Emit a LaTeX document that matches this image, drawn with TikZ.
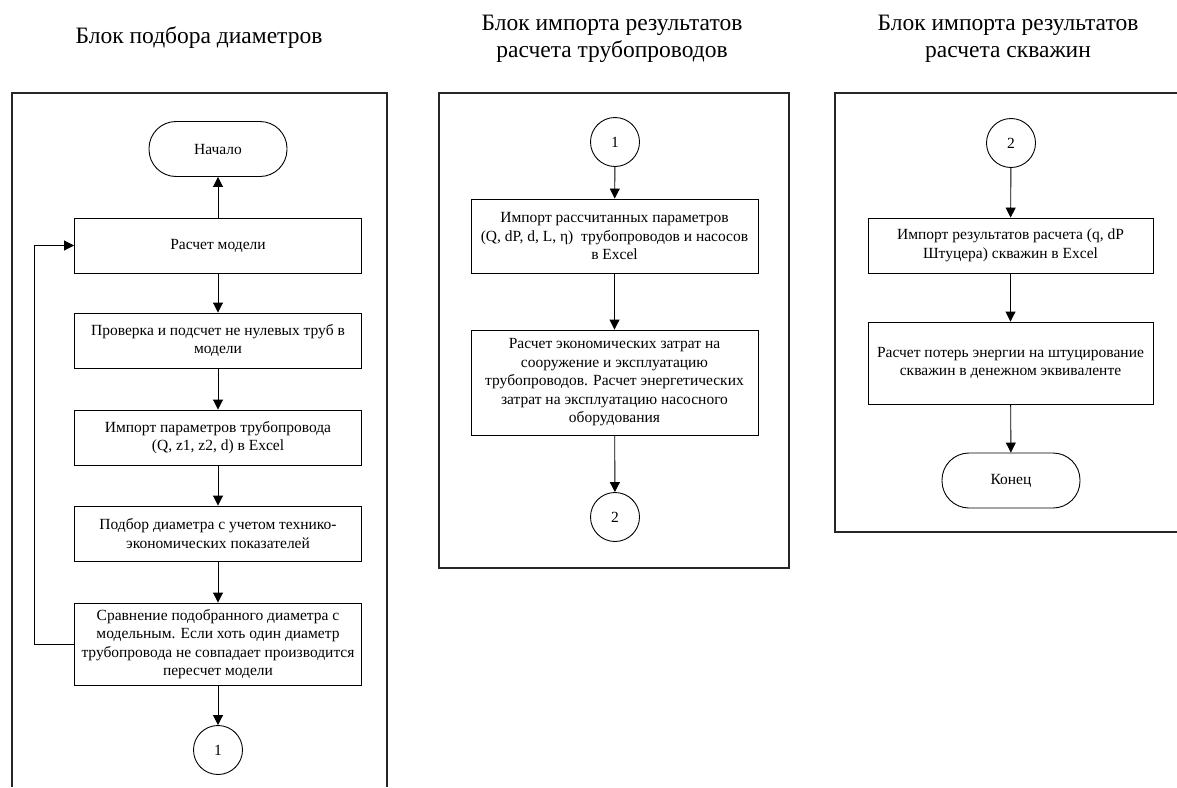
\documentclass[tikz,border=0pt]{standalone}
\usepackage{fontspec}
\setmainfont{Liberation Serif}
\usetikzlibrary{positioning, arrows.meta, shapes.geometric}

\begin{document}
\begin{tikzpicture}[x=1pt, y=-1pt,
    every node/.style={font=\fontsize{15.5}{18.5}\selectfont},
    procbox/.style={draw, line width=0.9pt, rectangle, align=center, minimum width=287pt, inner sep=2pt},
    termbox/.style={draw, line width=0.9pt, rectangle, rounded corners=27pt, minimum width=138pt, minimum height=55pt},
    joint/.style={draw, line width=0.9pt, circle, minimum size=49pt, inner sep=0pt},
    blocktitle/.style={align=center, font=\fontsize{23.5}{27}\selectfont},
    frame/.style={line width=1.8pt, black!85},
    flow/.style={-{Triangle[length=10pt, width=10pt]}, line width=0.9pt}]

        % Fix the page size
        \useasboundingbox (0,0) rectangle (1177,787);

        % Define coordinates for the frame corners
        \coordinate (LT1) at (12,93);   % left block, top-left
        \coordinate (LT2) at (387,93);  % left block, top-right
        \coordinate (MT1) at (439,93);  % middle block, top-left
        \coordinate (MB2) at (789,568); % middle block, bottom-right
        \coordinate (RT1) at (835,93);  % right block, top-left
        \coordinate (RB1) at (835,532); % right block, bottom-left

        % --- Block titles ---
        \node[blocktitle] (title1) at (199,38) {Блок подбора диаметров};
        \node[blocktitle] (title2) at (612,39) {Блок импорта результатов\\расчета трубопроводов};
        \node[blocktitle] (title3) at (1008,39) {Блок импорта результатов\\расчета скважин};

        % --- Frames (left one runs off the bottom, right one off the right side) ---
        \draw[frame] (12,787) -- (LT1) -- (LT2) -- (387,787);
        \draw[frame] (MT1) rectangle (MB2);
        \draw[frame] (1177,93) -- (RT1) -- (RB1) -- (1177,532);

        % --- Left block: diameter selection ---
        \node[termbox] (start) at (218,149) {Начало};
        \node[procbox, minimum height=55pt] (model) at (218,245.5) {Расчет модели};
        \node[procbox, minimum height=55pt] (check) at (218,340.5) {Проверка и подсчет не нулевых труб в\\модели};
        \node[procbox, minimum height=55pt] (pipeimp) at (218,437.5) {Импорт параметров трубопровода\\(Q, z1, z2, d) в Excel};
        \node[procbox, minimum height=55pt] (select) at (218,533.5) {Подбор диаметра с учетом технико-\\экономических показателей};
        \node[procbox, minimum height=82pt] (compare) at (218,644) {Сравнение подобранного диаметра с\\модельным. Если хоть один диаметр\\трубопровода не совпадает производится\\пересчет модели};
        \node[joint] (joinA) at (218,750) {1};

        \draw[flow] (model) -- (start);
        \draw[flow] (model) -- (check);
        \draw[flow] (check) -- (pipeimp);
        \draw[flow] (pipeimp) -- (select);
        \draw[flow] (select) -- (compare);
        \draw[flow] (compare) -- (joinA);
        % loop back when a diameter differs
        \draw[flow] (compare.west) -- ++(-40,0) |- (model.west);

        % --- Middle block: pipeline results ---
        \node[joint] (joinB) at (615,142) {1};
        \node[procbox, minimum height=74pt] (resimp) at (614.5,236) {Импорт рассчитанных параметров\\ (Q, dP, d, L, η)\ \ трубопроводов и насосов\\в Excel};
        \node[procbox, minimum height=105pt] (costs) at (614.5,382.5) {Расчет экономических затрат на\\сооружение и эксплуатацию\\трубопроводов. Расчет энергетических\\затрат на эксплуатацию насосного\\оборудования};
        \node[joint] (joinC) at (615,517) {2};

        \draw[flow] (joinB) -- (resimp);
        \draw[flow] (resimp) -- (costs);
        \draw[flow] (costs) -- (joinC);

        % --- Right block: well results ---
        \node[joint] (joinD) at (1011,143) {2};
        \node[procbox, minimum width=285pt, minimum height=55pt] (wellimp) at (1010.5,245.5) {Импорт результатов расчета (q, dP\\Штуцера) скважин в Excel};
        \node[procbox, minimum width=285pt, minimum height=82pt] (loss) at (1010.5,363) {Расчет потерь энергии на штуцирование\\скважин в денежном эквиваленте};
        \node[termbox] (finish) at (1011,480.5) {Конец};

        \draw[flow] (joinD) -- (wellimp);
        \draw[flow] (wellimp) -- (loss);
        \draw[flow] (loss) -- (finish);

    \end{tikzpicture}
\end{document}
